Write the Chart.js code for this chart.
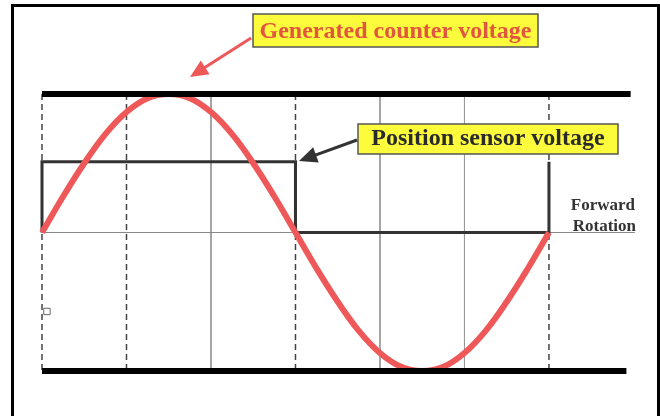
<!DOCTYPE html>
<html>
<head>
<meta charset="utf-8">
<script src="https://cdn.jsdelivr.net/npm/chart.js@4"></script>
<style>
  body { margin: 0; background: #fff; }
  #wrap { position: relative; width: 660px; height: 416px; overflow: hidden; }
  #frame { position: absolute; left: 11px; top: 4px; width: 643px; height: 420px; border: 3px solid #000; border-bottom: none; pointer-events: none; }
</style>
</head>
<body>
<div id="wrap">
  <canvas id="chart" width="660" height="416"></canvas>
  <div id="frame"></div>
</div>
<script>
// rotor angle (deg) and generated counter voltage
const angles = [0, 15, 30, 45, 60, 75, 90, 105, 120, 135, 150, 165, 180, 195, 210, 225, 240, 255, 270, 285, 300, 315, 330, 345, 360];
const counterVoltage = [0, 0.26, 0.5, 0.71, 0.87, 0.97, 1, 0.97, 0.87, 0.71, 0.5, 0.26, 0, -0.26, -0.5, -0.71, -0.87, -0.97, -1, -0.97, -0.87, -0.71, -0.5, -0.26, 0];
// position sensor square wave
const sensorX = [0, 0, 180, 180, 360, 360];
const sensorY = [0, 0.51, 0.51, 0, 0, 0.51];
// grid lines
const dashedGrid = [0, 60, 180, 360];
const solidGrid = [120, 240, 300];
const topRail = [0, 418];
const bottomRail = [0, 415];
const zeroLine = [0, 421];

const red = 'rgb(238, 88, 88)';

function pts(xs, ys) {
  return xs.map((x, i) => ({ x: x, y: ys[i] }));
}

const datasets = [];
// black rails on top
datasets.push({ data: pts(topRail, [1, 1]), borderColor: '#000', borderWidth: 6, order: 0 });
datasets.push({ data: pts(bottomRail, [-1, -1]), borderColor: '#000', borderWidth: 6, order: 0 });
datasets.push({ data: angles.map((a, i) => ({ x: a, y: counterVoltage[i] })), borderColor: red, borderWidth: 6, tension: 0.4, order: 1 });
datasets.push({ data: pts(sensorX, sensorY), borderColor: '#333', borderWidth: 3, order: 2 });
datasets.push({ data: pts(zeroLine, [0, 0]), borderColor: '#888', borderWidth: 1, order: 3 });
dashedGrid.forEach(g => {
  datasets.push({ data: pts([g, g], [1, -1]), borderColor: '#444', borderWidth: 1.5, borderDash: [6, 4], order: 4 });
});
solidGrid.forEach(g => {
  datasets.push({ data: pts([g, g], [1, -1]), borderColor: '#999', borderWidth: 1, order: 4 });
});
// stray little square near the left edge
datasets.push({ data: [{ x: 3.5, y: -0.57 }], showLine: false, pointStyle: 'rect', pointRadius: 4.5, pointBackgroundColor: '#fff', pointBorderColor: '#666', pointBorderWidth: 1, order: 3 });

datasets.forEach(d => {
  if (d.showLine === undefined) d.showLine = true;
  if (d.pointRadius === undefined) d.pointRadius = 0;
  d.clip = false;
  d.fill = false;
});

function arrow(ctx, x1, y1, x2, y2, color, w, head) {
  const a = Math.atan2(y2 - y1, x2 - x1);
  ctx.save();
  ctx.strokeStyle = color;
  ctx.fillStyle = color;
  ctx.lineWidth = w;
  ctx.beginPath();
  ctx.moveTo(x1, y1);
  ctx.lineTo(x2 - Math.cos(a) * head * 0.8, y2 - Math.sin(a) * head * 0.8);
  ctx.stroke();
  ctx.beginPath();
  ctx.moveTo(x2, y2);
  ctx.lineTo(x2 - head * Math.cos(a) + head * 0.45 * Math.sin(a), y2 - head * Math.sin(a) - head * 0.45 * Math.cos(a));
  ctx.lineTo(x2 - head * Math.cos(a) - head * 0.45 * Math.sin(a), y2 - head * Math.sin(a) + head * 0.45 * Math.cos(a));
  ctx.closePath();
  ctx.fill();
  ctx.restore();
}

function label(ctx, text, x, y, w, h, color) {
  ctx.save();
  ctx.fillStyle = '#fcfc3c';
  ctx.fillRect(x, y, w, h);
  ctx.strokeStyle = '#555';
  ctx.lineWidth = 1.5;
  ctx.strokeRect(x, y, w, h);
  ctx.fillStyle = color;
  ctx.font = 'bold 24px "Liberation Serif", serif';
  ctx.textAlign = 'center';
  ctx.textBaseline = 'alphabetic';
  ctx.fillText(text, x + w / 2, y + h - 9);
  ctx.restore();
}

const notes = {
  id: 'notes',
  afterDraw(chart) {
    const ctx = chart.ctx;
    label(ctx, 'Generated counter voltage', 253, 14, 285, 33, '#e2553f');
    arrow(ctx, 251, 38, 190, 77, red, 3, 18);
    label(ctx, 'Position sensor voltage', 358, 124, 260, 30, '#2a2a2a');
    arrow(ctx, 357, 140, 299, 161, '#333', 3, 18);
    ctx.save();
    ctx.fillStyle = '#333';
    ctx.font = 'bold 17px "Liberation Serif", serif';
    ctx.textAlign = 'right';
    ctx.fillText('Forward', 635, 210);
    ctx.fillText('Rotation', 636, 231);
    ctx.restore();
  }
};

new Chart(document.getElementById('chart').getContext('2d'), {
  type: 'scatter',
  data: { datasets: datasets },
  options: {
    responsive: false,
    animation: false,
    layout: { padding: { left: 42, right: 19.5, top: 94, bottom: 45 } },
    plugins: { legend: { display: false }, tooltip: { enabled: false } },
    scales: {
      x: { type: 'linear', min: 0, max: 425, display: false },
      y: { type: 'linear', min: -1, max: 1, display: false }
    }
  },
  plugins: [notes]
});
</script>
</body>
</html>
